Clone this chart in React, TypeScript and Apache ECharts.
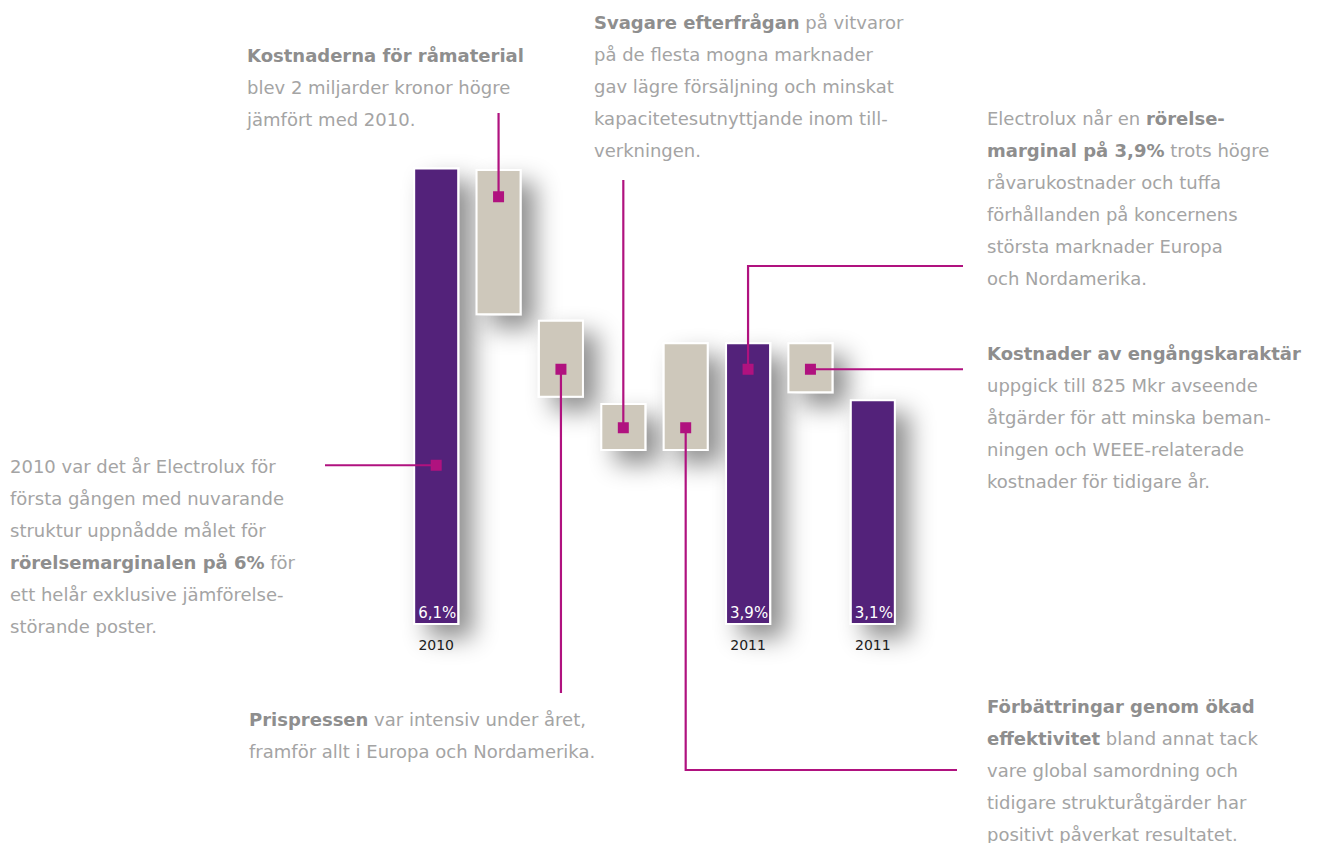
import React, { useEffect, useRef } from "react";
import * as echarts from "echarts";

const categories = ["2010", "Råmaterial", "Prispress", "Efterfrågan", "Effektivitet", "2011", "Engångskostnader", "2011 (exkl.)"];
const barLow = [0, 4.13, 3.03, 2.32, 2.32, 0, 3.09, 0];
const barHigh = [6.1, 6.08, 4.07, 2.96, 3.77, 3.77, 3.77, 3.01];
const barIsTotal = [true, false, false, false, false, true, false, true];
const barLabels = ["6,1%", "", "", "", "", "3,9%", "", "3,1%"];
const xTickLabels = ["2010", "", "", "", "", "2011", "", "2011"];
const markerCats = [0, 1, 2, 3, 4, 5, 6];
const markerValues = [2.13, 5.71, 3.41, 2.63, 2.63, 3.41, 3.41];

type Seg = [boolean, string];
const noteRaw: Seg[][] = [
  [[true, "Kostnaderna för råmaterial"]],
  [[false, "blev 2 miljarder kronor högre"]],
  [[false, "jämfört med 2010."]],
];
const noteDemand: Seg[][] = [
  [[true, "Svagare efterfrågan"], [false, " på vitvaror"]],
  [[false, "på de flesta mogna marknader"]],
  [[false, "gav lägre försäljning och minskat"]],
  [[false, "kapacitetesutnyttjande inom till-"]],
  [[false, "verkningen."]],
];
const noteMargin: Seg[][] = [
  [[false, "Electrolux når en "], [true, "rörelse-"]],
  [[true, "marginal på 3,9%"], [false, " trots högre"]],
  [[false, "råvarukostnader och tuffa"]],
  [[false, "förhållanden på koncernens"]],
  [[false, "största marknader Europa"]],
  [[false, "och Nordamerika."]],
];
const noteOneOff: Seg[][] = [
  [[true, "Kostnader av engångskaraktär"]],
  [[false, "uppgick till 825 Mkr avseende"]],
  [[false, "åtgärder för att minska beman-"]],
  [[false, "ningen och WEEE-relaterade"]],
  [[false, "kostnader för tidigare år."]],
];
const noteEfficiency: Seg[][] = [
  [[true, "Förbättringar genom ökad"]],
  [[true, "effektivitet"], [false, " bland annat tack"]],
  [[false, "vare global samordning och"]],
  [[false, "tidigare strukturåtgärder har"]],
  [[false, "positivt påverkat resultatet."]],
];
const note2010: Seg[][] = [
  [[false, "2010 var det år Electrolux för"]],
  [[false, "första gången med nuvarande"]],
  [[false, "struktur uppnådde målet för"]],
  [[true, "rörelsemarginalen på 6%"], [false, " för"]],
  [[false, "ett helår exklusive jämförelse-"]],
  [[false, "störande poster."]],
];
const notePrice: Seg[][] = [
  [[true, "Prispressen"], [false, " var intensiv under året,"]],
  [[false, "framför allt i Europa och Nordamerika."]],
];

const PURPLE = "#52217A";
const BEIGE = "#CEC8BB";
const MAGENTA = "#B0127F";
const TEXT_REG = "#a4a4a4";
const TEXT_BOLD = "#8e8e8e";
const FONT = "DejaVu Sans, Liberation Sans, Arial, sans-serif";

function richText(lines: Seg[][]): string {
  return lines
    .map((line) =>
      line
        .map(([b, t]) => (b ? "{b|" + t + "}" : "{r|" + t + "}"))
        .join("")
    )
    .join("\n");
}

function noteElement(lines: Seg[][], x: number, firstLineCenter: number) {
  return {
    type: "text",
    x,
    y: firstLineCenter - 16,
    z: 20,
    style: {
      text: richText(lines),
      verticalAlign: "top",
      align: "left",
      rich: {
        r: { fontFamily: FONT, fontSize: 18, fontWeight: "normal", fill: TEXT_REG, lineHeight: 32 },
        b: { fontFamily: FONT, fontSize: 18, fontWeight: "bold", fill: TEXT_BOLD, lineHeight: 32 },
      },
    },
  };
}

export default function App() {
  const ref = useRef<HTMLDivElement>(null);
  useEffect(() => {
    if (!ref.current) return;
    const chart = echarts.init(ref.current, undefined, { renderer: "svg" });
    const option: any = {
      animation: false,
      backgroundColor: "#ffffff",
      grid: { left: 405, right: 413, top: 25, bottom: 218, containLabel: false },
      xAxis: {
        type: "category",
        data: categories,
        axisLine: { show: false },
        axisTick: { show: false },
        axisLabel: {
          margin: 13,
          color: "#222222",
          fontFamily: FONT,
          fontSize: 14,
          interval: 0,
          formatter: (_v: string, i: number) => xTickLabels[i],
        },
      },
      yAxis: { type: "value", min: 0, max: 8, show: false, splitLine: { show: false } },
      series: [
        {
          type: "bar",
          stack: "w",
          barWidth: 46,
          silent: true,
          itemStyle: { color: "rgba(0,0,0,0)" },
          data: barLow,
        },
        {
          type: "bar",
          stack: "w",
          barWidth: 46,
          silent: true,
          data: barHigh.map((h, i) => ({
            value: +(h - barLow[i]).toFixed(3),
            itemStyle: {
              color: barIsTotal[i] ? PURPLE : BEIGE,
              borderColor: "#ffffff",
              borderWidth: 2,
              shadowBlur: 24,
              shadowColor: "rgba(0,0,0,0.44)",
              shadowOffsetX: 14,
              shadowOffsetY: 13,
            },
            label: {
              show: barLabels[i] !== "",
              position: "insideBottomLeft",
              distance: 5,
              formatter: barLabels[i],
              color: "#ffffff",
              fontFamily: FONT,
              fontSize: 15,
            },
          })),
        },
        {
          type: "scatter",
          symbol: "rect",
          symbolSize: 11,
          z: 10,
          silent: true,
          itemStyle: { color: MAGENTA, opacity: 1 },
          data: markerCats.map((c, i) => [c, markerValues[i]]),
        },
      ],
    };
    chart.setOption(option);

    const px = (i: number) =>
      chart.convertToPixel({ xAxisIndex: 0, yAxisIndex: 0 }, [markerCats[i], markerValues[i]]) as number[];
    const p = markerCats.map((_, i) => px(i));
    const leaders: number[][][] = [
      [p[0], [325, p[0][1]]],
      [p[1], [p[1][0], 113]],
      [p[2], [p[2][0], 693]],
      [p[3], [p[3][0], 180]],
      [p[4], [p[4][0], 770], [957, 770]],
      [p[5], [p[5][0], 266], [963, 266]],
      [p[6], [963, p[6][1]]],
    ];
    const lineEls = leaders.map((pts) => ({
      type: "polyline",
      z: 5,
      silent: true,
      shape: { points: pts },
      style: { stroke: MAGENTA, lineWidth: 2.2, fill: "none" },
    }));
    const textEls = [
      noteElement(noteRaw, 247, 55),
      noteElement(noteDemand, 594, 22),
      noteElement(noteMargin, 987, 118),
      noteElement(noteOneOff, 987, 353),
      noteElement(noteEfficiency, 987, 706),
      noteElement(note2010, 10, 466),
      noteElement(notePrice, 249, 719),
    ];
    chart.setOption({ graphic: { elements: [...lineEls, ...textEls] } });

    return () => chart.dispose();
  }, []);
  return (
    <div
      ref={ref}
      style={{ position: "fixed", left: 0, top: 0, width: 1317, height: 843, background: "#fff" }}
    />
  );
}
